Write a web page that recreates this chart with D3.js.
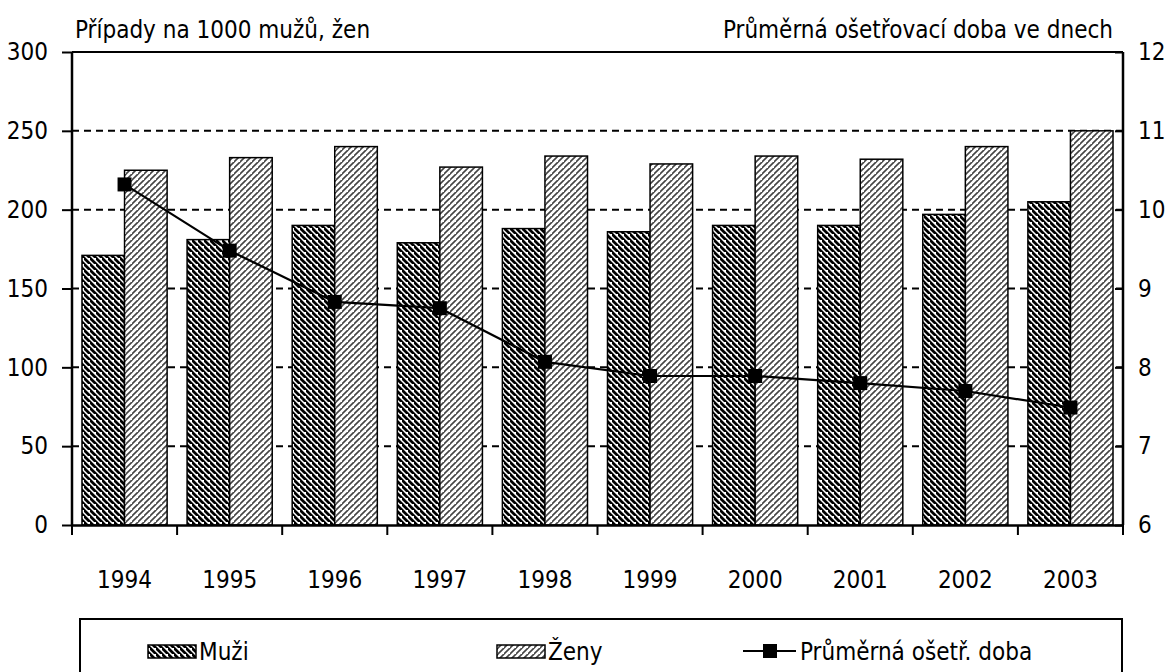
<!DOCTYPE html>
<html><head><meta charset="utf-8">
<script src="https://cdn.jsdelivr.net/npm/d3@7"></script>
<style>
body{margin:0;background:#fff;}
text{font-family:"DejaVu Sans Condensed","DejaVu Sans",sans-serif;font-stretch:condensed;fill:#000;}
</style></head>
<body><svg id="c" width="1176" height="672"></svg>
<script>
const years = ["1994","1995","1996","1997","1998","1999","2000","2001","2002","2003"];
const muzi = [171,181,190,179,188,186,190,190,197,205];
const zeny = [225,233,240,227,234,229,234,232,240,250];
const doba = [10.32,9.48,8.83,8.75,8.07,7.89,7.89,7.80,7.70,7.49];
const leftTicks = [0,50,100,150,200,250,300];
const rightTicks = [6,7,8,9,10,11,12];
const seriesNames = ["Muži","Ženy","Průměrná ošetř. doba"];
const leftTitle = "Případy na 1000 mužů, žen";
const rightTitle = "Průměrná ošetřovací doba ve dnech";

const FS = 24;
const svg = d3.select("#c");
const L=72, R=1123, T=52, B=525;
const defs = svg.append("defs");
const pm = defs.append("pattern").attr("id","pMuzi").attr("patternUnits","userSpaceOnUse").attr("width",6).attr("height",6);
pm.append("rect").attr("width",6).attr("height",6).attr("fill","#fff");
pm.append("path").attr("d","M-1,-1L7,7M-4,2L2,8M4,-4L10,2").attr("stroke","#000").attr("stroke-width",2.8);
const pz = defs.append("pattern").attr("id","pZeny").attr("patternUnits","userSpaceOnUse").attr("width",6).attr("height",6);
pz.append("rect").attr("width",6).attr("height",6).attr("fill","#fff");
pz.append("path").attr("d","M-1,7L7,-1M-4,4L2,-2M4,10L10,4").attr("stroke","#444").attr("stroke-width",1.6);

const x = d3.scaleBand().domain(years).range([L,R]).paddingInner(0.19).paddingOuter(0.095);
const xc = d3.scaleBand().domain(years).range([L,R]);
const yL = d3.scaleLinear().domain([0,300]).range([B,T]);
const yR = d3.scaleLinear().domain([6,12]).range([B,T]);

// gridlines
svg.append("g").selectAll("line").data(leftTicks.filter(d=>d>0&&d<300)).join("line")
  .attr("x1",L).attr("x2",R).attr("y1",d=>yL(d)).attr("y2",d=>yL(d))
  .attr("stroke","#000").attr("stroke-width",2).attr("stroke-dasharray","7,5");

const bw = x.bandwidth()/2;
svg.append("g").selectAll("rect").data(years).join("rect")
  .attr("x",d=>x(d)).attr("y",(d,i)=>yL(muzi[i])).attr("width",bw).attr("height",(d,i)=>B-yL(muzi[i]))
  .attr("fill","url(#pMuzi)").attr("stroke","#000").attr("stroke-width",1.5);
svg.append("g").selectAll("rect").data(years).join("rect")
  .attr("x",d=>x(d)+bw).attr("y",(d,i)=>yL(zeny[i])).attr("width",bw).attr("height",(d,i)=>B-yL(zeny[i]))
  .attr("fill","url(#pZeny)").attr("stroke","#000").attr("stroke-width",1.5);

// plot border top
svg.append("line").attr("x1",L).attr("x2",R).attr("y1",T).attr("y2",T).attr("stroke","#000").attr("stroke-width",2);

// axes
const axL = svg.append("g").attr("transform",`translate(${L},0)`)
  .call(d3.axisLeft(yL).tickValues(leftTicks).tickSize(10).tickPadding(14));
const axR = svg.append("g").attr("transform",`translate(${R},0)`)
  .call(d3.axisRight(yR).tickValues(rightTicks).tickFormat(d3.format("d")).tickSizeInner(-8).tickSizeOuter(0).tickPadding(15));
const axB = svg.append("g").attr("transform",`translate(0,${B})`)
  .call(d3.axisBottom(xc).tickValues([]).tickSizeOuter(0));
[axL,axR,axB].forEach(a=>{a.selectAll("path").attr("stroke","#000").attr("stroke-width",2.5);
  a.selectAll("line").attr("stroke","#000").attr("stroke-width",2);
  a.selectAll("text").attr("font-size",FS).style("font-family",'"DejaVu Sans Condensed","DejaVu Sans",sans-serif');});
axL.select("path.domain").attr("d",`M0,${T}V${B}`);
axR.select("path.domain").attr("d",`M0,${T}V${B}`);
// category boundary ticks
svg.append("g").selectAll("line").data(years.concat(["end"])).join("line")
  .attr("x1",(d,i)=>L+i*xc.step()).attr("x2",(d,i)=>L+i*xc.step())
  .attr("y1",B).attr("y2",B+10).attr("stroke","#000").attr("stroke-width",2);
svg.append("g").selectAll("text").data(years).join("text")
  .attr("x",d=>xc(d)+xc.bandwidth()/2).attr("y",B+63).attr("text-anchor","middle")
  .attr("font-size",FS).text(d=>d);

// line
const lx = d=>xc(d)+xc.bandwidth()/2;
svg.append("path").datum(years).attr("fill","none").attr("stroke","#000").attr("stroke-width",2.2)
  .attr("d",d3.line().x(lx).y((d,i)=>yR(doba[i])));
svg.append("g").selectAll("rect").data(years).join("rect")
  .attr("x",d=>lx(d)-7).attr("y",(d,i)=>yR(doba[i])-7).attr("width",14).attr("height",14).attr("fill","#000");

// titles
svg.append("text").attr("x",75).attr("y",38).attr("font-size",FS).text(leftTitle);
svg.append("text").attr("x",1113).attr("y",38).attr("text-anchor","end").attr("font-size",FS).text(rightTitle);

// legend
svg.append("rect").attr("x",80).attr("y",619).attr("width",1042).attr("height",70).attr("fill","none").attr("stroke","#000").attr("stroke-width",2);
const ly = 651;
svg.append("rect").attr("x",148).attr("y",ly-6).attr("width",48).attr("height",13).attr("fill","url(#pMuzi)").attr("stroke","#000").attr("stroke-width",1.5);
svg.append("text").attr("x",199).attr("y",ly+9).attr("font-size",FS).text(seriesNames[0]);
svg.append("rect").attr("x",497).attr("y",ly-6).attr("width",48).attr("height",13).attr("fill","url(#pZeny)").attr("stroke","#000").attr("stroke-width",1.5);
svg.append("text").attr("x",548).attr("y",ly+9).attr("font-size",FS).text(seriesNames[1]);
svg.append("line").attr("x1",743).attr("x2",796).attr("y1",ly).attr("y2",ly).attr("stroke","#000").attr("stroke-width",2);
svg.append("rect").attr("x",763).attr("y",ly-7).attr("width",14).attr("height",14).attr("fill","#000");
svg.append("text").attr("x",800).attr("y",ly+9).attr("font-size",FS).text(seriesNames[2]);
</script></body></html>
